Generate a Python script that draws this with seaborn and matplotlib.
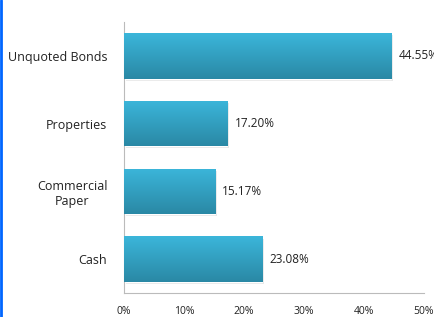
import numpy as np
import pandas as pd
import matplotlib
matplotlib.use("Agg")
import matplotlib.pyplot as plt
import seaborn as sns
from matplotlib.colors import LinearSegmentedColormap
import matplotlib.patheffects as pe
from matplotlib.lines import Line2D

categories = ["Unquoted Bonds", "Properties", "Commercial\nPaper", "Cash"]
values = [44.55, 17.20, 15.17, 23.08]
value_labels = ["44.55%", "17.20%", "15.17%", "23.08%"]
xticks = [0, 10, 20, 30, 40, 50]
xtick_labels = ["0%", "10%", "20%", "30%", "40%", "50%"]

sns.set_style("white")
plt.rcParams["font.family"] = ["Open Sans", "DejaVu Sans"]

df = pd.DataFrame({"category": categories, "value": values})

fig = plt.figure(figsize=(4.35, 3.17), dpi=100)
ax = fig.add_axes([124/435, 1 - 293/317, 300/435, 271/317])
sns.barplot(data=df, x="value", y="category", orient="h", ax=ax,
            color="#34a7c9", width=0.67, saturation=1)

cmap = LinearSegmentedColormap.from_list("g", ["#3bb6da", "#2a88a5"])
grad = np.linspace(0, 1, 64).reshape(-1, 1)
for p in ax.patches:
    x0, y0 = p.get_x(), p.get_y()
    w, h = p.get_width(), p.get_height()
    p.set_path_effects([pe.SimplePatchShadow(offset=(1.2, -1.5), shadow_rgbFace="#bbbbbb", alpha=0.35), pe.Normal()])
    im = ax.imshow(grad, cmap=cmap, aspect="auto", extent=[x0, x0 + w, y0 + h, y0],
                   origin="upper", zorder=3)
    im.set_clip_path(p)

ax.set_xlim(0, 50)
ax.set_ylim(3.5, -0.5)
ax.set_xticks(xticks)
ax.set_xticklabels(xtick_labels, fontsize=7.5, color="#222222")
ax.tick_params(axis="y", labelsize=9.0, labelcolor="#222222", length=0, pad=12)
ax.tick_params(axis="x", length=0, pad=9)
for lab in ax.get_yticklabels():
    lab.set_multialignment("center")
ax.set_xlabel("")
ax.set_ylabel("")
for s in ["top", "right"]:
    ax.spines[s].set_visible(False)
for s in ["left", "bottom"]:
    ax.spines[s].set_color("#bbbbbb")
    ax.spines[s].set_linewidth(0.8)

for i, (v, lbl) in enumerate(zip(values, value_labels)):
    ax.text(v + 1.2, i, lbl, va="center", ha="left", fontsize=8.5, color="#222222",
            clip_on=False)

fig.add_artist(Line2D([1/435, 1/435], [0, 1], color="#0066ff", lw=2, transform=fig.transFigure))

fig.savefig("out.png", dpi=100)
